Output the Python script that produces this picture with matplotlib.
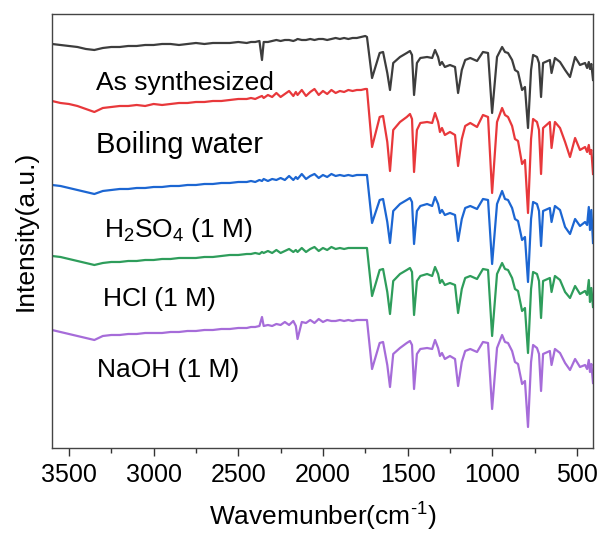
import numpy as np
import matplotlib.pyplot as plt

plt.rcParams['font.family'] = ['Liberation Sans', 'DejaVu Sans']
plt.rcParams['mathtext.default'] = 'regular'

# wavenumber grid (cm-1): coarse over the flat O-H/C-H side, finer around the
# CO2 band, dense through the fingerprint region
wn_flat = [3600, 3550, 3500, 3450, 3400, 3350, 3300, 3250, 3200, 3150, 3100, 3050,
           3000, 2950, 2900, 2850, 2800, 2750, 2700, 2650, 2600, 2550, 2500, 2450]
wn_noisy = [2425, 2400, 2375, 2360, 2350, 2325, 2300, 2275, 2250, 2225, 2200, 2175,
            2160, 2150, 2125, 2100, 2075, 2050, 2025, 2000, 1975, 1950, 1925, 1900,
            1875, 1850, 1825, 1800, 1775, 1750]
wn_fp = [1740, 1710, 1665, 1645, 1620, 1604, 1585, 1545, 1505, 1486,
         1474, 1462, 1445, 1425, 1385, 1355, 1338, 1320, 1309, 1297,
         1280, 1250, 1220, 1202, 1180, 1160, 1130, 1090, 1055, 1025,
         1001, 972, 942, 925, 907, 883, 866, 848, 824, 807,
         789, 771, 759, 736, 724, 712, 700, 660, 650, 630,
         600, 570, 541, 511, 482, 452, 440, 430, 423, 415,
         405]

# stacked intensities (a.u.), one list per sample
as_synthesized = [
    404, 403, 402, 401, 399, 398, 400, 401, 401, 402, 402, 403,
    403, 404, 404, 403, 404, 405, 404, 405, 405, 405, 406, 405,
    406, 406, 407, 388, 406, 406, 407, 408, 407, 408, 408, 407,
    408, 409, 408, 408, 409, 408, 409, 409, 408, 409, 410, 409,
    410, 409, 410, 410, 411, 412,
    411, 370, 395, 396, 375, 358, 385, 391, 395, 397,
    393, 353, 385, 390, 391, 390, 398, 391, 383, 386,
    381, 383, 381, 355, 378, 388, 390, 387, 396, 395,
    335, 391, 401, 396, 395, 388, 378, 376, 358, 361,
    320, 378, 393, 391, 385, 351, 385, 388, 375, 390,
    386, 378, 371, 391, 383, 385, 380, 386, 379, 384,
    368]

boiling_water = [
    347, 345, 344, 342, 339, 336, 340, 341, 342, 342, 343, 342,
    344, 343, 344, 345, 345, 346, 346, 347, 347, 348, 349, 349,
    350, 349, 351, 352, 350, 353, 351, 355, 351, 354, 357, 352,
    356, 353, 358, 352, 356, 359, 353, 357, 354, 358, 355, 357,
    356, 358, 357, 358, 358, 359,
    359, 301, 331, 332, 306, 277, 318, 326, 331, 334,
    329, 276, 318, 325, 326, 325, 335, 326, 316, 320,
    313, 316, 313, 282, 309, 322, 325, 321, 333, 331,
    255, 326, 340, 333, 331, 322, 309, 307, 284, 288,
    235, 309, 329, 326, 318, 274, 320, 326, 300, 326,
    320, 306, 291, 310, 298, 301, 296, 303, 294, 298,
    274]

h2so4 = [
    263, 262, 260, 258, 256, 254, 257, 258, 259, 259, 260, 260,
    261, 261, 262, 262, 263, 263, 264, 264, 265, 265, 266, 266,
    267, 266, 268, 267, 269, 267, 269, 268, 270, 268, 272, 268,
    271, 269, 274, 269, 272, 274, 270, 273, 271, 274, 272, 273,
    272, 273, 272, 273, 273, 273,
    273, 225, 248, 249, 226, 205, 237, 244, 248, 250,
    246, 204, 237, 242, 244, 242, 251, 244, 235, 238,
    233, 235, 233, 207, 229, 240, 242, 239, 249, 248,
    184, 244, 257, 249, 248, 240, 229, 227, 208, 211,
    166, 229, 246, 244, 237, 202, 237, 240, 226, 242,
    238, 221, 214, 229, 222, 226, 223, 241, 218, 238,
    205]

hcl = [
    192, 191, 189, 187, 185, 183, 185, 186, 186, 187, 187, 188,
    188, 189, 189, 190, 190, 190, 191, 191, 192, 193, 193, 194,
    194, 195, 194, 196, 195, 197, 195, 198, 195, 197, 199, 196,
    198, 196, 200, 196, 199, 201, 197, 200, 198, 201, 199, 200,
    199, 200, 200, 200, 200, 200,
    200, 152, 178, 179, 156, 134, 167, 174, 178, 180,
    176, 133, 167, 172, 174, 172, 181, 174, 165, 168,
    163, 165, 163, 135, 159, 170, 172, 169, 179, 178,
    112, 174, 185, 179, 178, 170, 159, 157, 137, 140,
    95, 159, 176, 174, 167, 130, 167, 170, 156, 172,
    168, 156, 150, 162, 154, 157, 153, 168, 146, 160,
    141]

naoh = [
    118, 116, 114, 112, 110, 108, 112, 113, 113, 114, 114, 115,
    115, 115, 116, 116, 117, 117, 118, 118, 119, 119, 120, 120,
    121, 121, 122, 131, 122, 123, 122, 124, 123, 126, 123, 127,
    122, 109, 126, 125, 128, 125, 129, 126, 128, 127, 127, 128,
    127, 128, 127, 128, 128, 128,
    128, 79, 105, 106, 83, 61, 94, 100, 105, 107,
    103, 59, 94, 99, 100, 99, 108, 100, 92, 95,
    89, 92, 89, 62, 86, 97, 99, 96, 106, 105,
    39, 100, 113, 106, 105, 97, 86, 84, 64, 67,
    21, 86, 103, 100, 94, 57, 94, 97, 83, 99,
    95, 85, 78, 89, 81, 83, 79, 88, 76, 84,
    65]

samples = ['As synthesized', 'Boiling water', r'H$_2$SO$_4$ (1 M)', 'HCl (1 M)', 'NaOH (1 M)']
spectra = [as_synthesized, boiling_water, h2so4, hcl, naoh]
colors = ['#3d3d3d', '#e8383b', '#1c66d2', '#2e9d5b', '#a66cd9']

# label anchors (wavenumber, intensity) and sizes
label_x = [3340, 3340, 3293, 3299, 3335]
label_y = [358, 295, 211, 142, 71]
label_size = [19, 21, 19, 19, 19]

wavenumber = np.array(wn_flat + wn_noisy + wn_fp)

fig = plt.figure(figsize=(6.02, 5.38), dpi=100)
ax = fig.add_axes([0.0864, 0.1673, 0.8987, 0.8067])

for name, spec, c, lx, ly, fs in zip(samples, spectra, colors, label_x, label_y, label_size):
    assert len(spec) == len(wavenumber)
    ax.plot(wavenumber, spec, color=c, lw=1.6)
    ax.text(lx, ly, name, fontsize=fs, ha='left', va='baseline')

ax.set_xlim(3600, 405)
ax.set_ylim(0, 434)
ax.set_yticks([])
ax.set_xticks(range(500, 3501, 500))
ax.set_xticks(range(750, 3501, 500), minor=True)
ax.tick_params(axis='x', which='major', direction='out', length=6, width=1,
               labelsize=18, pad=5, color='#333333')
ax.tick_params(axis='x', which='minor', direction='out', length=3.5, width=1,
               color='#333333')
for sp in ax.spines.values():
    sp.set_linewidth(1.0)
    sp.set_color('#444444')

# plain hyphen in the exponent, as typed in the original axis title
ax.set_xlabel('Wavemunber(cm$^{\u2010 1}$)', fontsize=19, labelpad=10)
ax.set_ylabel('Intensity(a.u.)', fontsize=19, labelpad=10)

fig.savefig('out.png', dpi=100)
